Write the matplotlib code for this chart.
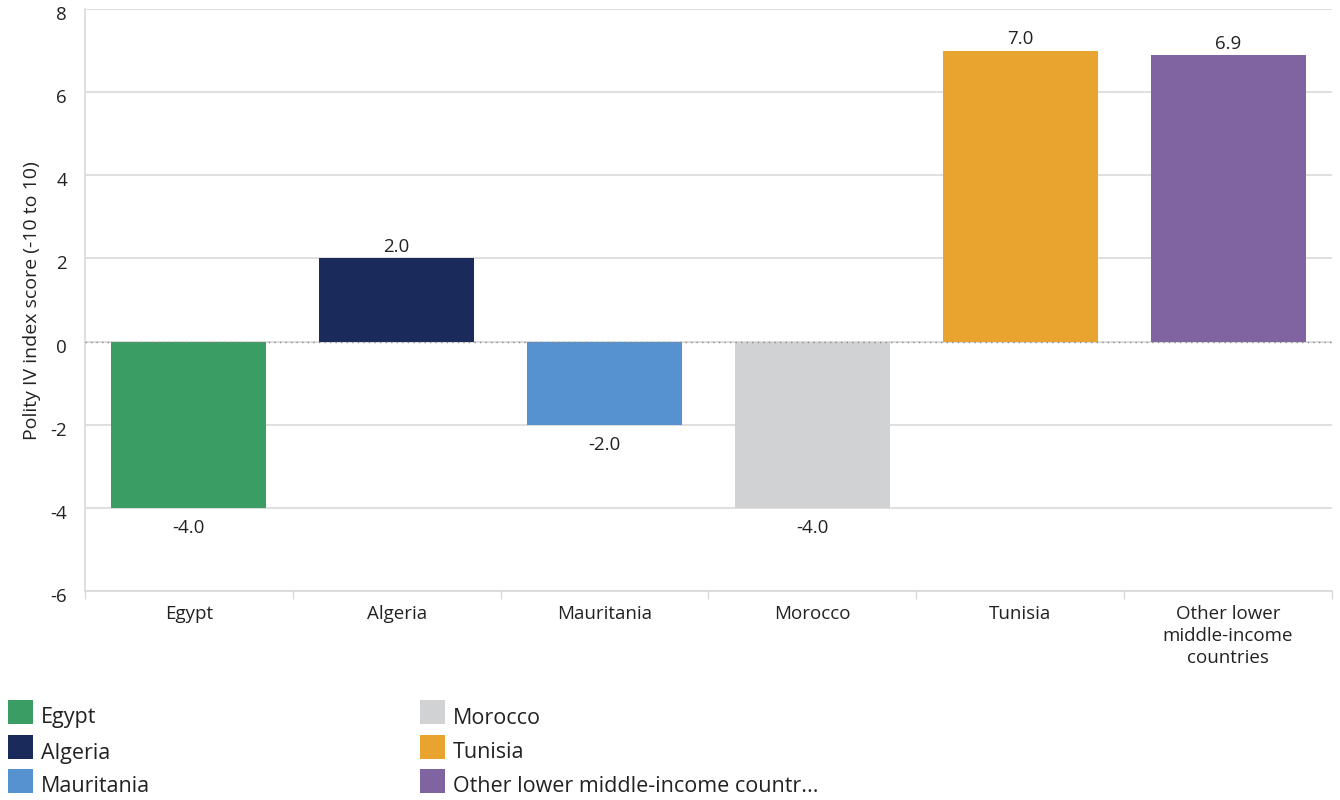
import matplotlib.pyplot as plt
from matplotlib.patches import Rectangle
from matplotlib.transforms import offset_copy

plt.rcParams['font.family'] = ['Open Sans', 'DejaVu Sans']

categories = ["Egypt", "Algeria", "Mauritania", "Morocco", "Tunisia",
              "Other lower middle-income countries"]
tick_labels = ["Egypt", "Algeria", "Mauritania", "Morocco", "Tunisia",
               "Other lower\nmiddle-income\ncountries"]
legend_labels = ["Egypt", "Algeria", "Mauritania", "Morocco", "Tunisia",
                 "Other lower middle-income countr..."]
scores = [-4.0, 2.0, -2.0, -4.0, 7.0, 6.9]
colors = ["#3a9d63", "#1a2a5a", "#5692d0", "#d1d2d4", "#e9a32f", "#8064a1"]

W, H = 1340, 800
fig = plt.figure(figsize=(W / 100, H / 100), dpi=100)
fig.subplots_adjust(left=85/W, right=1332/W, top=1-9/H, bottom=1-591/H)
ax = fig.add_subplot(111)

x = list(range(len(categories)))
ax.bar(x, scores, width=0.745, color=colors, zorder=3)

# value labels: above positive bars, below negative ones
for xi, v in zip(x, scores):
    dy = 8 if v >= 0 else -14.5
    ax.annotate(f"{v:.1f}", (xi, v), xytext=(0, dy), textcoords='offset points',
                ha='center', va='center', fontsize=13.5, color='#222222')

ax.set_xlim(-0.5, len(categories) - 0.5)
ax.set_ylim(-6, 8)
ax.set_yticks([-6, -4, -2, 0, 2, 4, 6, 8])
ax.set_yticklabels(["-6", "-4", "-2", "0", "2", "4", "6", "8"])
ax.yaxis.grid(True, color='#d9d9d9', linewidth=1.2, zorder=0)
ax.axhline(0, color='#888888', linestyle=(0, (1, 3)), linewidth=1, zorder=4)

ax.set_xticks(x)
ax.set_xticklabels(tick_labels, fontsize=13.5, color='#222222', linespacing=1.3)
ax.set_xticks([i + 0.5 for i in range(-1, len(categories))], minor=True)
ax.tick_params(axis='x', which='major', length=0, pad=10)
ax.tick_params(axis='x', which='minor', length=6, color='#d9d9d9', width=1)
ax.tick_params(axis='y', length=0, pad=13, labelsize=13.5, labelcolor='#222222')
for lab in ax.get_yticklabels():
    lab.set_transform(offset_copy(lab.get_transform(), fig=fig, y=-4, units='dots'))

for side in ['top', 'right']:
    ax.spines[side].set_visible(False)
for side in ['left', 'bottom']:
    ax.spines[side].set_color('#d9d9d9')
    ax.spines[side].set_linewidth(1.2)

fig.text(32/W, 1 - 301/H, "Polity IV index score (-10 to 10)", rotation=90,
         ha='center', va='center', fontsize=14, color='#222222')

# legend, two columns of three
col_x = [8, 420]
row_y = [700, 735, 769]
for i, (c, lab) in enumerate(zip(colors, legend_labels)):
    cx = col_x[i // 3]
    ry = row_y[i % 3]
    fig.patches.append(Rectangle((cx / W, 1 - (ry + 24) / H), 25 / W, 24 / H,
                                 transform=fig.transFigure, facecolor=c, edgecolor='none'))
    fig.text((cx + 33) / W, 1 - (ry + 18) / H, lab, ha='left', va='center',
             fontsize=15.5, color='#222222')

fig.savefig("out.png", dpi=100)
